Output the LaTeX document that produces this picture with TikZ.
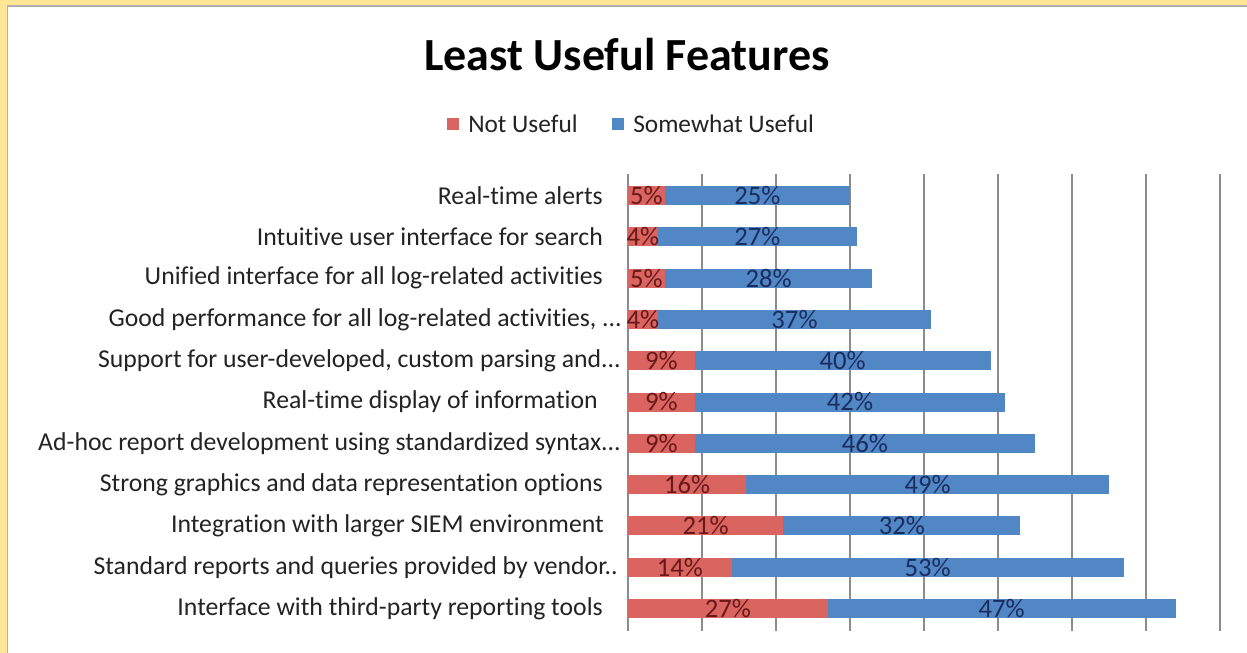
\documentclass[tikz,border=0pt]{standalone}
\usepackage{fontspec}
\setmainfont{Carlito}[Ligatures={NoCommon}]
\definecolor{frameyel}{RGB}{253,230,150}
\definecolor{framegray}{RGB}{175,175,175}
\definecolor{nuRed}{RGB}{217,100,96}
\definecolor{swBlue}{RGB}{82,135,197}
\definecolor{nuText}{RGB}{105,25,25}
\definecolor{swText}{RGB}{25,45,95}
\definecolor{gridg}{RGB}{140,140,140}
\definecolor{labtext}{RGB}{35,35,35}
\tikzset{
  gridline/.style={draw=gridg, line width=1.1pt},
  catlabel/.style={anchor=east, inner sep=0pt, font=\fontsize{19.3}{22}\selectfont, text=labtext},
  dlabel/.style={inner sep=0pt, font=\fontsize{20}{22}\selectfont},
  legtext/.style={anchor=west, inner sep=0pt, font=\fontsize{19}{22}\selectfont, text=labtext},
  titletext/.style={inner sep=0pt, font=\bfseries\fontsize{34.5}{40}\selectfont, text=black}
}
\begin{document}
\begin{tikzpicture}[x=0.75pt,y=-0.75pt]
\useasboundingbox (0,0) rectangle (1247,653);
\fill[frameyel] (0,0) rectangle (1247,653);
\fill[white] (8,7) rectangle (1247,653);
\fill[framegray] (7,5) rectangle (1247,7);
\fill[framegray] (7,5) rectangle (8,653);
% title
\node[titletext] (title) at (627,55) {Least Useful Features};
% legend
\fill[nuRed] (447,118) rectangle (459,130);
\node[legtext] (legnu) at (468,124) {Not Useful};
\fill[swBlue] (612,118) rectangle (624,130);
\node[legtext] (legsw) at (633,124) {Somewhat Useful};
% gridlines
\foreach \k in {0,...,8}
  \draw[gridline] ({628+74*\k},174) -- ({628+74*\k},631);
% bars
\foreach \i/\a/\b in {0/5/25,1/4/27,2/5/28,3/4/37,4/9/40,5/9/42,6/9/46,7/16/49,8/21/32,9/14/53,10/27/47}{
  \pgfmathsetmacro\yc{195.5+41.3*\i}
  \fill[nuRed] (628,{\yc-9.5}) rectangle ({628+7.4*\a},{\yc+9.5});
  \fill[swBlue] ({628+7.4*\a},{\yc-9.5}) rectangle ({628+7.4*(\a+\b)},{\yc+9.5});
  \node[dlabel, text=nuText] (nu\i) at ({628+3.7*\a},\yc) {\a\%};
  \node[dlabel, text=swText] (sw\i) at ({628+7.4*\a+3.7*\b},\yc) {\b\%};
}
% category labels
\foreach \i/\xr/\t in {
  0/603/{Real-time alerts},
  1/603/{Intuitive user interface for search},
  2/603/{Unified interface for all log-related activities},
  3/622/{Good performance for all log-related activities, ...},
  4/621/{Support for user-developed, custom parsing and...},
  5/598/{Real-time display of information},
  6/621/{Ad-hoc report development using standardized syntax...},
  7/603/{Strong graphics and data representation options},
  8/604/{Integration with larger SIEM environment},
  9/618/{Standard reports and queries provided by vendor..},
  10/603/{Interface with third-party reporting tools}}{
  \pgfmathsetmacro\yc{195.5+41.3*\i}
  \node[catlabel] (cat\i) at (\xr,\yc) {\t};
}
\end{tikzpicture}
\end{document}
